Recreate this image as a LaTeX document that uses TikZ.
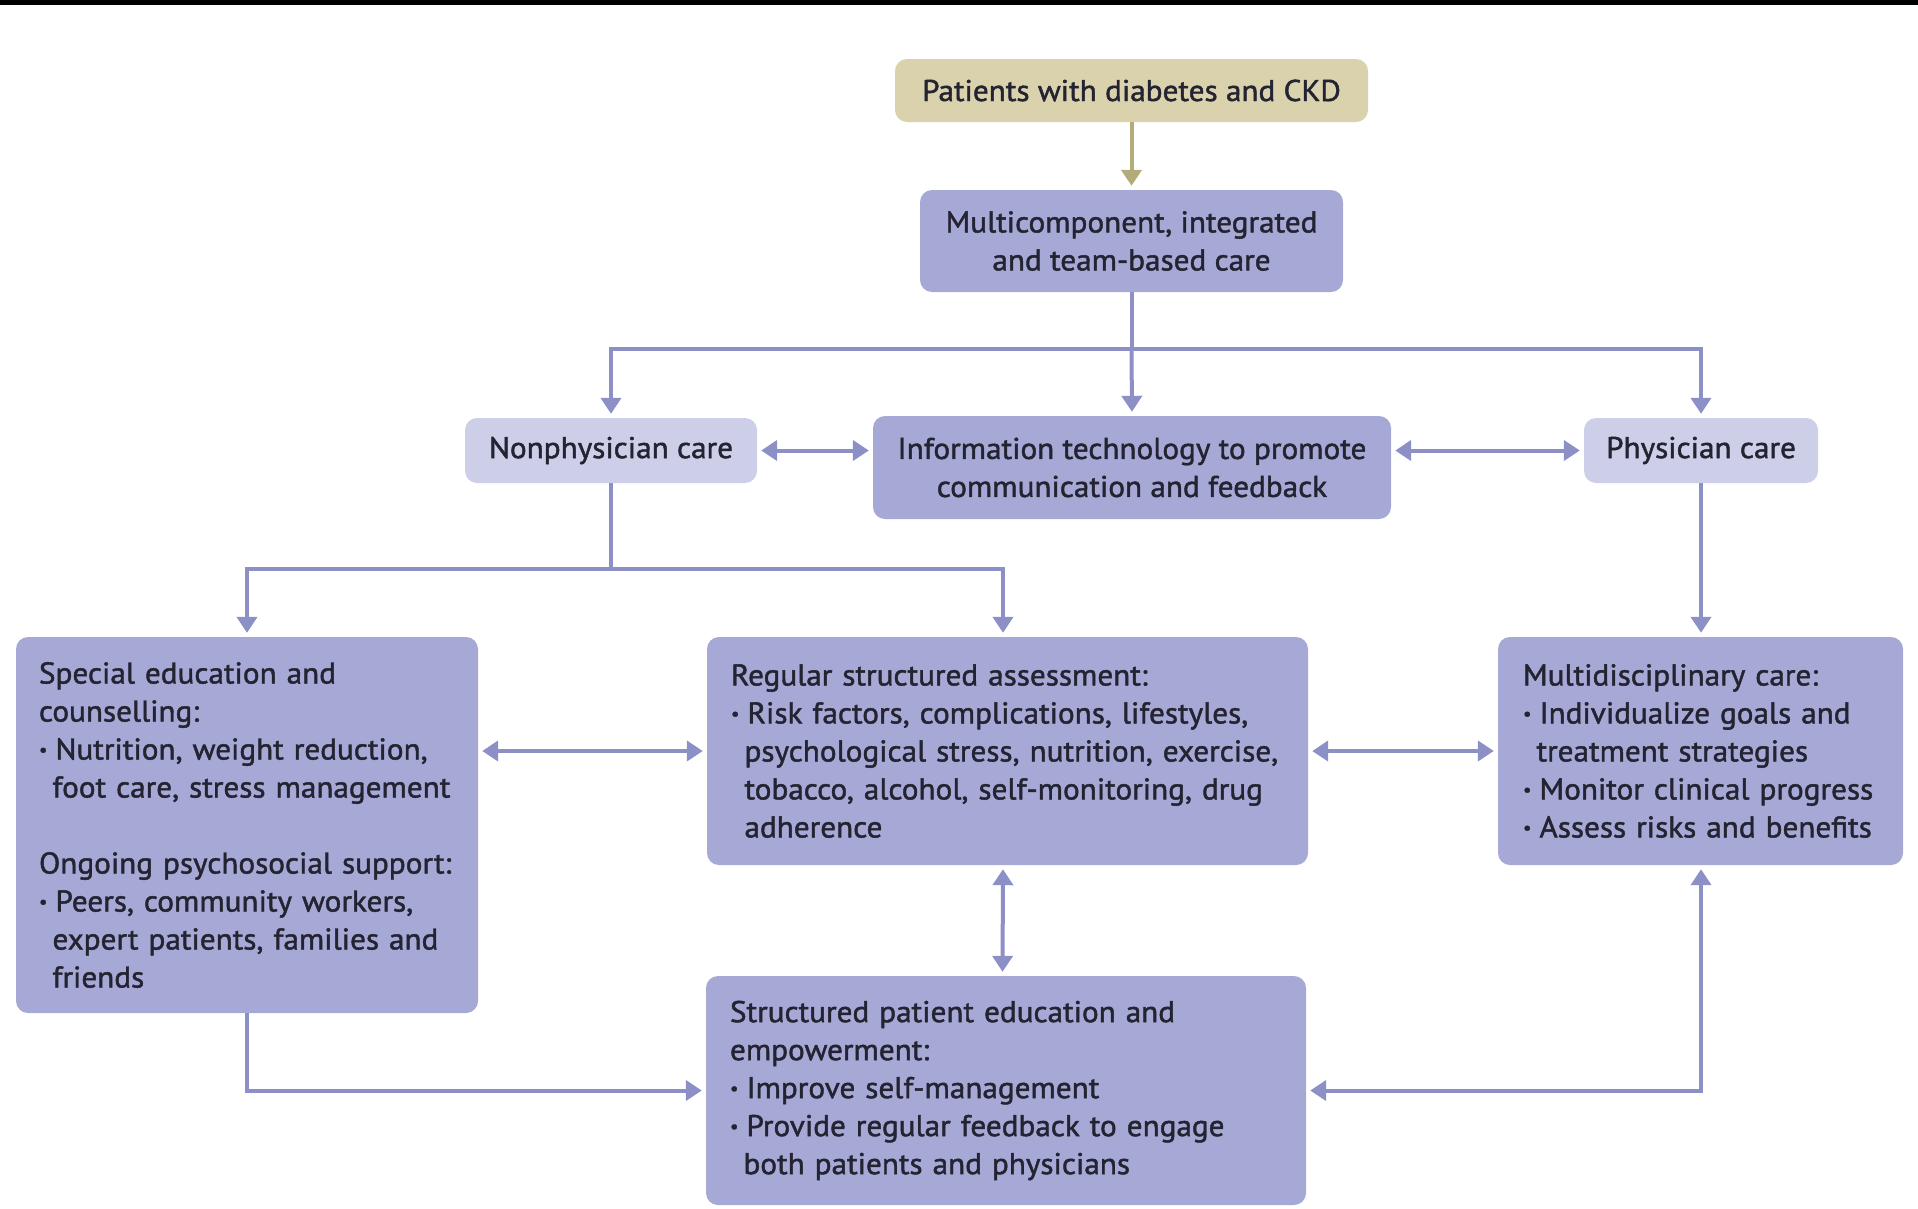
\documentclass[tikz,border=0pt]{standalone}
\usepackage{fontspec}
\setmainfont{PT Sans}[FakeStretch=1.04, FakeBold=1.5]
\usetikzlibrary{arrows.meta}
\definecolor{boxmain}{RGB}{166,169,213}
\definecolor{boxlight}{RGB}{205,207,233}
\definecolor{boxtop}{RGB}{218,210,172}
\definecolor{linecol}{RGB}{140,144,198}
\definecolor{toparrow}{RGB}{180,172,120}
\definecolor{txt}{RGB}{35,35,50}
\newcommand\bul{\makebox[0.55em][l]{\raisebox{0.12em}{\scalebox{0.6}{\textbullet}}}}
\newcommand\ind{\hspace*{0.45em}}
\tikzset{
  base/.style={rounded corners=12pt, inner sep=0pt, text=txt,
    font=\fontsize{30}{38}\selectfont},
  topbox/.style={base, fill=boxtop},
  mainbox/.style={base, fill=boxmain},
  lightbox/.style={base, fill=boxlight},
  listbox/.style={mainbox, align=left},
  conn/.style={draw=linecol, line width=4pt,
    -{Triangle[width=20pt,length=16pt]}, shorten >=4pt},
  dconn/.style={draw=linecol, line width=4pt,
    {Triangle[width=20pt,length=16pt]}-{Triangle[width=20pt,length=16pt]},
    shorten >=4pt, shorten <=4pt},
  plain/.style={draw=linecol, line width=4pt},
}
\begin{document}
\begin{tikzpicture}[x=1pt,y=-1pt]
\useasboundingbox (0,0) rectangle (1918,1208);
\fill[black] (0,0) rectangle (1918,5);

\node[topbox, minimum width=473pt, minimum height=63pt] (pat) at (1131.5,90.5)
  {Patients with diabetes and CKD};
\node[mainbox, minimum width=423pt, minimum height=102pt, align=center] (multi) at (1131.5,241)
  {Multicomponent, integrated\\and team-based care};
\node[lightbox, minimum width=292pt, minimum height=65pt] (nonphys) at (611,450.5)
  {Nonphysician care};
\node[mainbox, minimum width=518pt, minimum height=103pt, align=center] (it) at (1132,467.5)
  {Information technology to promote\\communication and feedback};
\node[lightbox, minimum width=234pt, minimum height=65pt] (phys) at (1701,450.5)
  {Physician care};

\node[listbox, minimum width=462pt, minimum height=376pt, text width=416pt] (left) at (247,825)
  {Special education and\\
   counselling:\\
   \bul Nutrition, weight reduction,\\
   \ind foot care, stress management\\[38pt]
   Ongoing psychosocial support:\\
   \bul Peers, community workers,\\
   \ind expert patients, families and\\
   \ind friends};
\node[listbox, minimum width=601pt, minimum height=228pt, text width=553pt] (mid) at (1007.5,751)
  {Regular structured assessment:\\
   \bul Risk factors, complications, lifestyles,\\
   \ind psychological stress, nutrition, exercise,\\
   \ind tobacco, alcohol, self-monitoring, drug\\
   \ind adherence};
\node[listbox, minimum width=405pt, minimum height=228pt, text width=355pt] (right) at (1700.5,751)
  {Multidisciplinary care:\\
   \bul Individualize goals and\\
   \ind treatment strategies\\
   \bul Monitor clinical progress\\
   \bul Assess risks and benefits};
\node[listbox, minimum width=600pt, minimum height=229pt, text width=552pt] (bot) at (1006,1090.5)
  {Structured patient education and\\
   empowerment:\\
   \bul Improve self-management\\
   \bul Provide regular feedback to engage\\
   \ind both patients and physicians};

\coordinate (j1) at (1131.5,349);
\coordinate (j2) at (611,569);

\draw[conn, draw=toparrow] (pat) -- (multi);
\draw[plain] (multi.south) -- (j1);
\draw[conn] (j1) -- (it.north);
\draw[conn] (j1) -| (nonphys.north);
\draw[conn] (j1) -| (phys.north);

\draw[dconn] (nonphys) -- (it.west |- nonphys);
\draw[dconn] (it.east |- phys) -- (phys);

\draw[plain] (nonphys.south) -- (j2);
\draw[conn] (j2) -| (left.north);
\draw[conn] (j2) -| ([xshift=-4.5pt]mid.north);
\draw[conn] (phys.south) -- (phys.south |- right.north);

\draw[dconn] (left.east |- mid.west) -- (mid.west);
\draw[dconn] (mid.east) -- (right.west);
\draw[dconn] ([xshift=-4.5pt]mid.south) -- ([xshift=-3.5pt]bot.north);

\draw[conn] (left.south) |- (bot.west);
\draw[dconn] (bot.east) -| (phys.south |- right.south);
\end{tikzpicture}
\end{document}
